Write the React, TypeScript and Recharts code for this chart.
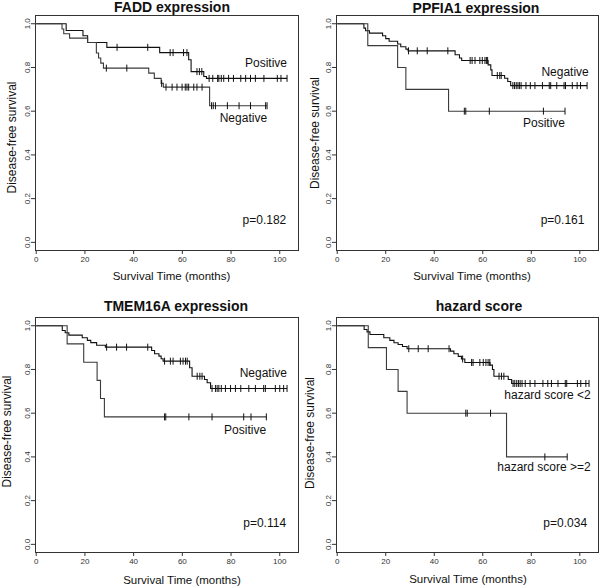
import React from 'react';
import { ComposedChart, Line, Scatter, XAxis, YAxis, ReferenceArea, ReferenceDot } from 'recharts';

const FONT = '"Liberation Sans", Arial, Helvetica, sans-serif';

// FADD expression
const faddPosTimes = [12.3, 19.2, 21.1, 29.0, 50.7, 62.6, 63.6, 68.8, 69.9];
const faddPosSurv = [0.969, 0.945, 0.914, 0.892, 0.868, 0.835, 0.781, 0.759, 0.75];
const faddPosCensor = [33.2, 45.8, 55, 56.2, 60.5, 61.9, 66, 67, 68, 71, 72.5, 74.5, 75, 76, 77, 79, 81, 84, 86, 88, 90, 93.5, 99, 100.5, 103];
const faddNegTimes = [10.6, 11.3, 13.7, 21.1, 24.7, 25.6, 26.5, 27.6, 46.2, 48.5, 51.3, 52.2, 71.2];
const faddNegSurv = [0.976, 0.954, 0.934, 0.914, 0.866, 0.843, 0.82, 0.797, 0.774, 0.75, 0.727, 0.71, 0.625];
const faddNegCensor = [28.8, 37.2, 51.5, 53.3, 55.8, 57.8, 59.9, 61.2, 61.9, 62.6, 64.7, 66, 68.1, 72, 72.7, 73.6, 78.5, 83.3, 88, 94.2, 94.8];

// PPFIA1 expression
const ppfNegTimes = [11.0, 11.7, 13.3, 18.7, 20.0, 21.4, 24.9, 26.2, 28.3, 29.2, 48.6, 50.4, 51.3, 62.2, 63.3, 63.8, 69.0, 70.3, 71.5];
const ppfNegSurv = [0.98, 0.968, 0.957, 0.945, 0.932, 0.92, 0.907, 0.895, 0.884, 0.876, 0.858, 0.843, 0.832, 0.812, 0.789, 0.763, 0.751, 0.736, 0.717];
const ppfNegCensor = [29.4, 33.0, 37.1, 45.6, 54.8, 55.6, 56.8, 58.8, 59.8, 60.9, 61.5, 62, 66, 67, 67.6, 72.4, 73.1, 73.8, 74.5, 75.1, 75.8, 77.8, 79.6, 81.5, 84.6, 87.4, 88, 90.5, 93.5, 94.1, 96.9, 98.9, 100.3, 103];
const ppfPosTimes = [12.6, 24.9, 28.3, 45.9];
const ppfPosSurv = [0.9, 0.8, 0.7, 0.6];
const ppfPosCensor = [52.4, 53, 62.7, 85, 93.9];

// TMEM16A expression
const tmemNegTimes = [10.7, 11.9, 13.4, 18.9, 21.0, 22.4, 24.8, 28.4, 47.4, 48.6, 50.4, 51.3, 52.1, 63.0, 64.0, 69.1, 70.2, 71.6];
const tmemNegSurv = [0.978, 0.968, 0.957, 0.945, 0.933, 0.923, 0.911, 0.902, 0.887, 0.872, 0.861, 0.849, 0.838, 0.808, 0.769, 0.754, 0.739, 0.713];
const tmemNegCensor = [28.9, 33.0, 37.1, 45.8, 52.7, 55.1, 56.2, 59.2, 60.3, 61.3, 62.0, 66.1, 67.2, 68.1, 72.2, 73.6, 74.3, 75, 76, 77.7, 79.8, 81.8, 84, 87.3, 90, 93.4, 94.1, 98.2, 100, 101.6, 103];
const tmemPosTimes = [12.7, 19.5, 25.0, 26.4, 28.0];
const tmemPosSurv = [0.917, 0.833, 0.75, 0.667, 0.583];
const tmemPosCensor = [52.7, 53.2, 62.7, 72.2, 85.2, 88.2, 94.5];

// hazard score
const hazLowTimes = [11.1, 12.3, 13.5, 19.2, 21.7, 23.4, 25.1, 26.9, 28.8, 46.7, 48.1, 49.9, 51.2, 52.6, 63.0, 64.0, 64.6, 70.5, 71.9];
const hazLowSurv = [0.983, 0.972, 0.96, 0.945, 0.933, 0.922, 0.914, 0.905, 0.895, 0.884, 0.872, 0.86, 0.848, 0.832, 0.82, 0.8, 0.769, 0.754, 0.736];
const hazLowCensor = [29.5, 33.4, 37.5, 46.1, 51.7, 55.4, 56, 58.8, 60.2, 61.3, 62.2, 62.9, 66.7, 67.7, 68.7, 72.5, 73.2, 74, 74.7, 75.4, 76.2, 77.5, 79.5, 81.5, 84.8, 86.8, 88.3, 91, 94, 94.6, 99, 100.4, 102.5, 103.8];
const hazHighTimes = [12.8, 20.3, 25.1, 28.8, 69.8];
const hazHighSurv = [0.9, 0.8, 0.7, 0.6, 0.4];
const hazHighCensor = [53, 53.6, 63.2, 85.6, 94.8];

const xTicks = [0, 20, 40, 60, 80, 100];
const yTicks = [0, 0.2, 0.4, 0.6, 0.8, 1.0];

const X_DOMAIN = [-0.5, 107.5];
const Y_DOMAIN = [-0.035, 1.04];

type Curve = { times: number[]; surv: number[]; censor: number[]; color: string };
type Note = { text: string; t: number; s: number };

function survAt(c: Curve, t: number) {
  let s = 1;
  c.times.forEach((et, i) => {
    if (et <= t) s = c.surv[i];
  });
  return s;
}

function stepPoints(c: Curve) {
  const pts = [{ t: 0, s: 1 }];
  c.times.forEach((et, i) => pts.push({ t: et, s: c.surv[i] }));
  const end = Math.max(...c.censor, ...c.times);
  pts.push({ t: end, s: survAt(c, end) });
  return pts;
}

const censorPoints = (c: Curve) => c.censor.map(t => ({ t, s: survAt(c, t) }));

const CensorMark = (p: any) => (
  <line x1={p.cx} x2={p.cx} y1={p.cy - 3.5} y2={p.cy + 3.5} stroke="#111" strokeWidth={1} />
);

const YTick = (p: any) => (
  <text x={p.x} y={p.y} transform={`rotate(-90 ${p.x} ${p.y})`} textAnchor="middle"
    fontSize={8} fill="#333" fontFamily={FONT}>
    {Number(p.payload.value).toFixed(1)}
  </text>
);

const noteShape = (text: string) => (p: any) => (
  <text x={p.cx} y={p.cy} textAnchor="end" dominantBaseline="central" fontSize={12}
    fontFamily={FONT} fill="#111">{text}</text>
);

const panels = [
  {
    left: 0, top: 0, width: 300,
    title: 'FADD expression', titleX: 172, titleY: 12,
    xLabelX: 171.5, xLabelY: 279.5, yLabelX: 16, yLabelY: 137.5,
    curves: [
      { times: faddPosTimes, surv: faddPosSurv, censor: faddPosCensor, color: '#111' },
      { times: faddNegTimes, surv: faddNegSurv, censor: faddNegCensor, color: '#3a3a3a' },
    ],
    notes: [
      { text: 'Positive', t: 103, s: 0.82 },
      { text: 'Negative', t: 94.8, s: 0.568 },
      { text: 'p=0.182', t: 102.7, s: 0.102 },
    ],
  },
  {
    left: 301, top: 0, width: 299,
    title: 'PPFIA1 expression', titleX: 476, titleY: 12.5,
    xLabelX: 472, xLabelY: 279.5, yLabelX: 319, yLabelY: 133,
    curves: [
      { times: ppfNegTimes, surv: ppfNegSurv, censor: ppfNegCensor, color: '#111' },
      { times: ppfPosTimes, surv: ppfPosSurv, censor: ppfPosCensor, color: '#3a3a3a' },
    ],
    notes: [
      { text: 'Negative', t: 103.7, s: 0.777 },
      { text: 'Positive', t: 93.9, s: 0.545 },
      { text: 'p=0.161', t: 101.9, s: 0.102 },
    ],
  },
  {
    left: 0, top: 302, width: 300,
    title: 'TMEM16A expression', titleX: 176, titleY: 310.5,
    xLabelX: 182, xLabelY: 583.5, yLabelX: 11, yLabelY: 431.5,
    curves: [
      { times: tmemNegTimes, surv: tmemNegSurv, censor: tmemNegCensor, color: '#111' },
      { times: tmemPosTimes, surv: tmemPosSurv, censor: tmemPosCensor, color: '#3a3a3a' },
    ],
    notes: [
      { text: 'Negative', t: 103, s: 0.786 },
      { text: 'Positive', t: 94.4, s: 0.522 },
      { text: 'p=0.114', t: 102.6, s: 0.098 },
    ],
  },
  {
    left: 301, top: 302, width: 299,
    title: 'hazard score', titleX: 479, titleY: 310.5,
    xLabelX: 468, xLabelY: 582.5, yLabelX: 314, yLabelY: 433,
    curves: [
      { times: hazLowTimes, surv: hazLowSurv, censor: hazLowCensor, color: '#111' },
      { times: hazHighTimes, surv: hazHighSurv, censor: hazHighCensor, color: '#3a3a3a' },
    ],
    notes: [
      { text: 'hazard score <2', t: 104.5, s: 0.685 },
      { text: 'hazard score >=2', t: 104.5, s: 0.354 },
      { text: 'p=0.034', t: 103, s: 0.098 },
    ],
  },
];

const KMPanel = ({ width, curves, notes }: { width: number; curves: Curve[]; notes: Note[] }) => (
  <ComposedChart width={width} height={294} margin={{ top: 15, right: 2, bottom: 0, left: 0 }}>
    <XAxis type="number" dataKey="t" domain={X_DOMAIN} ticks={xTicks} interval={0} allowDataOverflow
      axisLine={false} tickLine={{ stroke: '#333' }} tickSize={4} tickMargin={2} height={44}
      tick={{ fontSize: 8, fill: '#333', fontFamily: FONT }} />
    <YAxis type="number" dataKey="s" domain={Y_DOMAIN} ticks={yTicks} interval={0} allowDataOverflow
      axisLine={false} tickLine={{ stroke: '#333' }} tickSize={4} tickMargin={1} width={35}
      tick={<YTick />} />
    <ReferenceArea x1={X_DOMAIN[0]} x2={X_DOMAIN[1]} y1={Y_DOMAIN[0]} y2={Y_DOMAIN[1]}
      fill="none" fillOpacity={0} stroke="#333" strokeWidth={1} shapeRendering="crispEdges" ifOverflow="visible" />
    {curves.map((c, i) => (
      <Line key={'l' + i} data={stepPoints(c)} dataKey="s" type="stepAfter" stroke={c.color}
        strokeWidth={1.1} dot={false} activeDot={false} isAnimationActive={false} />
    ))}
    {curves.map((c, i) => (
      <Scatter key={'c' + i} data={censorPoints(c)} dataKey="s" shape={CensorMark} isAnimationActive={false} />
    ))}
    {notes.map((n, i) => (
      <ReferenceDot key={'n' + i} x={n.t} y={n.s} r={0} shape={noteShape(n.text)} ifOverflow="visible" />
    ))}
  </ComposedChart>
);

export default function App() {
  return (
    <div style={{ position: 'absolute', left: 0, top: 0, width: 600, height: 588, overflow: 'hidden', background: '#fff' }}>
      {panels.map((p, i) => (
        <div key={i} style={{ position: 'absolute', left: p.left, top: p.top }}>
          <KMPanel width={p.width} curves={p.curves} notes={p.notes} />
        </div>
      ))}
      <svg width={600} height={588} style={{ position: 'absolute', left: 0, top: 0, pointerEvents: 'none' }}>
        {panels.map((p, i) => (
          <g key={i} fontFamily={FONT} fill="#111">
            <text x={p.titleX} y={p.titleY} textAnchor="middle" fontSize={14} fontWeight="bold">{p.title}</text>
            <text x={p.xLabelX} y={p.xLabelY} textAnchor="middle" fontSize={11.5}>Survival Time (months)</text>
            <text x={p.yLabelX} y={p.yLabelY} textAnchor="middle" fontSize={12}
              transform={`rotate(-90 ${p.yLabelX} ${p.yLabelY})`}>Disease-free survival</text>
          </g>
        ))}
      </svg>
    </div>
  );
}
